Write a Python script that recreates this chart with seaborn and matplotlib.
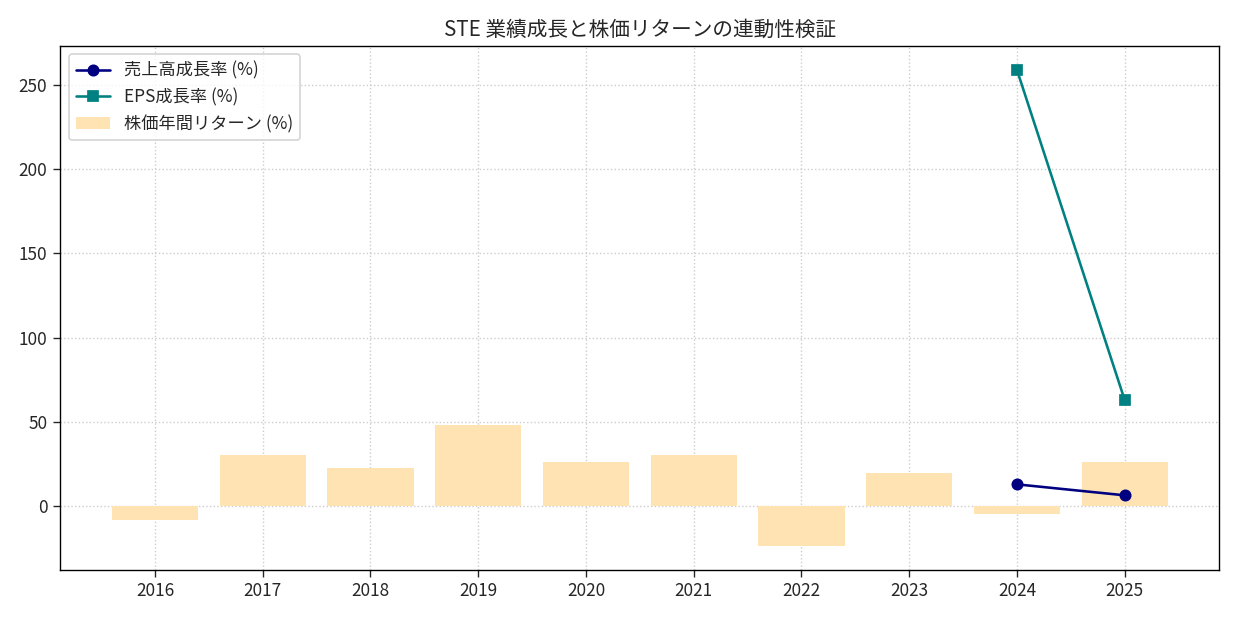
import matplotlib
matplotlib.use("Agg")
import matplotlib.pyplot as plt
import seaborn as sns
import pandas as pd

years = ["2016","2017","2018","2019","2020","2021","2022","2023","2024","2025"]
stock_return = [-7.8, 30.4, 22.7, 48.3, 26.3, 30.4, -23.3, 19.7, -4.2, 26.3]
rev_years = ["2024","2025"]
rev_growth = [13.1, 6.6]
eps_growth = [259.0, 63.2]

sns.set_style("white")
plt.rcParams['font.family'] = ['Noto Sans CJK JP', 'DejaVu Sans']

fig, ax = plt.subplots(figsize=(10, 5), dpi=123.8)
df = pd.DataFrame({"year": years, "ret": stock_return})
sns.barplot(data=df, x="year", y="ret", color="#FFE3B3", saturation=1, width=0.8,
            linewidth=0, ax=ax, label="株価年間リターン (%)")
xi = [years.index(y) for y in rev_years]
ax.plot(xi, rev_growth, color="navy", marker="o", label="売上高成長率 (%)")
ax.plot(xi, eps_growth, color="teal", marker="s", label="EPS成長率 (%)")
ax.set_xlim(-0.88, 9.88)
ax.set_xlabel("")
ax.set_ylabel("")
ax.grid(True, linestyle=":", color="#cccccc")
for s in ax.spines.values():
    s.set_color("black")
ax.tick_params(axis="both", which="both", length=4, left=True, bottom=True)
h, l = ax.get_legend_handles_labels()
order = [l.index("売上高成長率 (%)"), l.index("EPS成長率 (%)"), l.index("株価年間リターン (%)")]
ax.legend([h[i] for i in order], [l[i] for i in order], loc="upper left")
ax.set_title("STE 業績成長と株価リターンの連動性検証", fontsize=12)
fig.tight_layout()
fig.savefig("out.png")
